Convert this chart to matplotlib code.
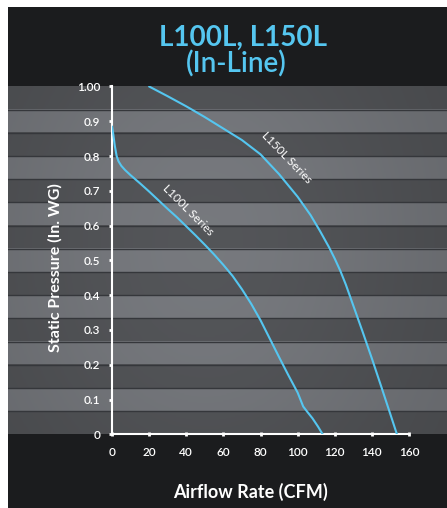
import numpy as np
import matplotlib
matplotlib.use('Agg')
import matplotlib.pyplot as plt
import matplotlib.patches as patches

# curve data (airflow CFM vs static pressure in. WG)
l100_cfm = [0, 0.5, 1, 1.5, 2.5, 3.5, 5, 7, 10, 15, 20, 25, 30, 35, 40, 45, 50, 55, 60, 65,
            70, 75, 80, 85, 90, 95, 100, 103, 105, 108, 111, 113.5]
l100_sp = [0.885, 0.87, 0.85, 0.83, 0.80, 0.785, 0.772, 0.76, 0.745, 0.722, 0.698, 0.673, 0.648,
           0.624, 0.598, 0.572, 0.545, 0.517, 0.487, 0.455, 0.417, 0.375, 0.328, 0.275, 0.222,
           0.17, 0.12, 0.08, 0.066, 0.046, 0.022, 0.0]

l150_cfm = [20, 30, 40, 50, 60, 70, 80, 90, 100, 107, 112, 117, 120, 123, 126, 129, 132, 135,
            140, 145, 150, 153.5]
l150_sp = [1.0, 0.972, 0.943, 0.912, 0.879, 0.846, 0.805, 0.748, 0.683, 0.63, 0.585, 0.537,
           0.505, 0.47, 0.43, 0.385, 0.34, 0.295, 0.218, 0.138, 0.057, 0.0]

x_ticks = [0, 20, 40, 60, 80, 100, 120, 140, 160]
y_ticks = [0, 0.1, 0.2, 0.3, 0.4, 0.5, 0.6, 0.7, 0.8, 0.9, 1.0]
y_ticklabels = ['0', '0.1', '0.2', '0.3', '0.4', '0.5', '0.6', '0.7', '0.8', '0.9', '1.00']

plt.rcParams['font.family'] = ['Lato', 'DejaVu Sans']

W, H = 447, 508
fig = plt.figure(figsize=(W / 100, H / 100), dpi=100, facecolor='white')

# dark panel
fig.patches.append(patches.Rectangle((8 / W, 0), 1 - 8 / W, 1 - 7 / H, transform=fig.transFigure,
                                     facecolor='#1b1c1e', edgecolor='none', zorder=-10))

# plot region in pixels
top_px, bot_px = 86.5, 434.3
left_px, right_px = 112, 409
b = (H - bot_px) / H
h = (bot_px - top_px) / H

# striped background with soft radial light
bg = fig.add_axes([8 / W, b, 1 - 8 / W, h])
bg.set_zorder(1)
nb = 15
rows = 300
cols = 400
yy = np.linspace(1, 0, rows)
xx = np.linspace(0, 1, cols)
X, Y = np.meshgrid(xx, yy)
band = np.minimum((Y * nb).astype(int), nb - 1)
base = np.where(band % 2 == 0, 0.31, 0.44)
glow = np.exp(-(((X - 0.45) / 0.55) ** 2 + ((Y - 0.55) / 0.9) ** 2))
val = base * (0.88 + 0.2 * glow)
img = np.dstack([val * 0.98, val * 1.0, val * 1.04])
img = np.clip(img, 0, 1)
bg.imshow(img, extent=(0, 1, 0, 1), aspect='auto', interpolation='nearest')
for k in range(1, nb):
    bg.axhline(k / nb, color='#35373b', lw=1.0)
bg.set_xlim(0, 1)
bg.set_ylim(0, 1)
bg.axis('off')

ax = fig.add_axes([left_px / W, b, (right_px - left_px) / W, h])
ax.set_zorder(2)
ax.patch.set_alpha(0)

line_col = '#55c6f0'
ax.plot(l100_cfm, l100_sp, color=line_col, lw=1.5, solid_capstyle='round',
        solid_joinstyle='round', zorder=3)
ax.plot(l150_cfm, l150_sp, color=line_col, lw=1.5, solid_capstyle='round',
        solid_joinstyle='round', zorder=3)

ax.set_xlim(0, 160)
ax.set_ylim(0, 1.0)
ax.set_xticks(x_ticks)
ax.set_yticks(y_ticks)
ax.set_yticklabels(y_ticklabels)

for s in ['top', 'right']:
    ax.spines[s].set_visible(False)
for s in ['left', 'bottom']:
    ax.spines[s].set_color('white')
    ax.spines[s].set_linewidth(1.5)

ax.tick_params(axis='y', direction='out', length=2.5, width=2, color='white',
               labelcolor='white', labelsize=8.5, pad=6)
ax.tick_params(axis='x', direction='inout', length=3, width=2, color='white',
               labelcolor='white', labelsize=8.5, pad=8)
for lab in ax.get_xticklabels() + ax.get_yticklabels():
    lab.set_fontweight('semibold')

ax.set_xlabel('Airflow Rate (CFM)', color='white', fontsize=13, fontweight='bold')
ax.xaxis.set_label_coords(0.465, -0.14)
ax.set_ylabel('Static Pressure (In. WG)', color='white', fontsize=11.5, fontweight='bold')
ax.yaxis.set_label_coords(-0.165, 0.479)

ax.text(41, 0.645, 'L100L Series', color='white', fontsize=8.5, rotation=-45,
        ha='center', va='center', rotation_mode='anchor')
ax.text(94, 0.795, 'L150L Series', color='white', fontsize=8.5, rotation=-46,
        ha='center', va='center', rotation_mode='anchor')

fig.text(243 / W, 1 - 38 / H, 'L100L, L150L', color='#55c6f0', fontsize=20,
         fontweight='bold', ha='center', va='center')
fig.text(236 / W, 1 - 64 / H, '(In-Line)', color='#55c6f0', fontsize=20,
         fontweight='semibold', ha='center', va='center')

fig.savefig('out.png', dpi=100, facecolor='white')
